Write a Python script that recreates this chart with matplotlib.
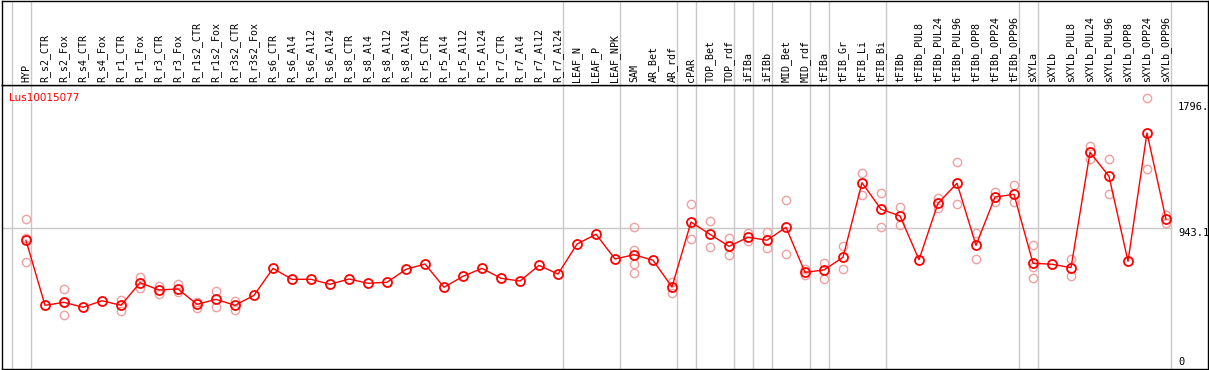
import matplotlib
matplotlib.use("Agg")
import matplotlib.pyplot as plt

title = "Lus10015077"
labels = ["HYP", "R_s2_CTR", "R_s2_Fox", "R_s4_CTR", "R_s4_Fox", "R_r1_CTR", "R_r1_Fox",
          "R_r3_CTR", "R_r3_Fox", "R_r1s2_CTR", "R_r1s2_Fox", "R_r3s2_CTR", "R_r3s2_Fox",
          "R_s6_CTR", "R_s6_Al4", "R_s6_Al12", "R_s6_Al24", "R_s8_CTR", "R_s8_Al4",
          "R_s8_Al12", "R_s8_Al24", "R_r5_CTR", "R_r5_Al4", "R_r5_Al12", "R_r5_Al24",
          "R_r7_CTR", "R_r7_Al4", "R_r7_Al12", "R_r7_Al24", "LEAF_N", "LEAF_P", "LEAF_NPK",
          "SAM", "AR_Bet", "AR_rdf", "cPAR", "TOP_Bet", "TOP_rdf", "iFIBa", "iFIBb",
          "MID_Bet", "MID_rdf", "tFIBa", "tFIB_Gr", "tFIB_Li", "tFIB_Bi", "tFIBb",
          "tFIBb_PUL8", "tFIBb_PUL24", "tFIBb_PUL96", "tFIBb_OPP8", "tFIBb_OPP24",
          "tFIBb_OPP96", "sXYLa", "sXYLb", "sXYLb_PUL8", "sXYLb_PUL24", "sXYLb_PUL96",
          "sXYLb_OPP8", "sXYLb_OPP24", "sXYLb_OPP96"]

means = [856, 399, 420, 385, 431, 399, 558, 507, 514, 406, 441, 399, 469,
         659, 582, 582, 547, 584, 554, 561, 652, 690, 526, 603, 659, 589, 570, 680, 619,
         830, 899, 725, 755, 716, 528, 985, 899, 814, 878, 857, 948, 631, 648, 737,
         1262, 1075, 1028, 720, 1117, 1258, 821, 1161, 1180, 695, 688, 664, 1476, 1307,
         709, 1612, 1004]

replicates = [[1004, 870, 702], [], [512, 420, 329], [], [], [436, 359], [598, 521],
              [535, 479], [549, 490], [424, 382], [500, 385], [431, 366], [],
              [], [], [], [], [], [], [], [], [], [], [], [], [], [], [], [],
              [], [], [], [948, 788, 690, 624], [], [565, 488], [1112, 864], [992, 807],
              [871, 751], [906, 854], [915, 805], [1138, 758], [652, 610], [699, 582],
              [814, 655], [1328, 1175], [1187, 948], [1089, 962],
              [], [1152, 1086], [1405, 1110], [910, 723], [1197, 1126], [1244, 1124],
              [821, 671, 589], [], [723, 607], [1520, 1429], [1427, 1180], [],
              [1856, 1356], [1035, 980]]

group_breaks = [-1, 0, 28, 31, 34, 35, 37, 38, 39, 41, 42, 45, 52, 53, 60]
axis_labels = [("1796.", 1796, "center"), ("943.1", 943.1, "top"), ("0", 0, "center")]
grid_value = 943.1

W, H = 1209, 370
fig = plt.figure(figsize=(W / 100, H / 100), dpi=100)

left_px, right_px, head_px, bottom_px = 2, 1208, 85, 369
ax = fig.add_axes([left_px / W, (H - bottom_px) / H, (right_px - left_px) / W,
                   (bottom_px - head_px) / H])
axh = fig.add_axes([left_px / W, (H - head_px) / H, (right_px - left_px) / W,
                    (head_px - 0.5) / H], sharex=ax)

# x mapping: column i at pixel 26 + 19 i
x0 = (left_px - 26) / 19
x1 = (right_px - 26) / 19
ax.set_xlim(x0, x1)
ax.set_ylim(-49.3, 1949.6)
axh.set_ylim(0, 1)

for a in (ax, axh):
    a.set_xticks([])
    a.set_yticks([])
    for s in a.spines.values():
        s.set_color("black")
        s.set_linewidth(1.0)
    for b in group_breaks:
        a.axvline(b + 0.25, color="#c8c8c8", lw=1.0, zorder=1)

# horizontal grid line up to last separator
ax.plot([x0, group_breaks[-1] + 0.25], [grid_value, grid_value], color="#c8c8c8",
        lw=1.0, zorder=1)

xs = list(range(len(labels)))
for i, reps in enumerate(replicates):
    if reps:
        ax.plot([i] * len(reps), reps, linestyle="none", marker="o", markersize=6,
                mfc="none", mec="#f0a0a0", mew=1.0, zorder=2)

ax.plot(xs, means, color="#ff0000", lw=1.0, marker="o", markersize=6.5,
        mfc="none", mec="#ff0000", mew=1.3, zorder=3)

for i, lab in enumerate(labels):
    axh.text(i, 3 / 85, lab, rotation=90, ha="center", va="bottom",
             family="DejaVu Sans Mono", fontsize=7.2, color="black")

ax.text((9.5 - left_px) / (right_px - left_px), 1 - 8 / (bottom_px - head_px), title,
        transform=ax.transAxes, ha="left", va="top", color="#ff0000",
        family="DejaVu Sans", fontsize=7.5)

for txt, val, va in axis_labels:
    ax.text((1178 - 26) / 19, val, txt, ha="left", va=va, family="DejaVu Sans Mono",
            fontsize=7.5, color="black", clip_on=True)

fig.savefig("out.png", dpi=100)
